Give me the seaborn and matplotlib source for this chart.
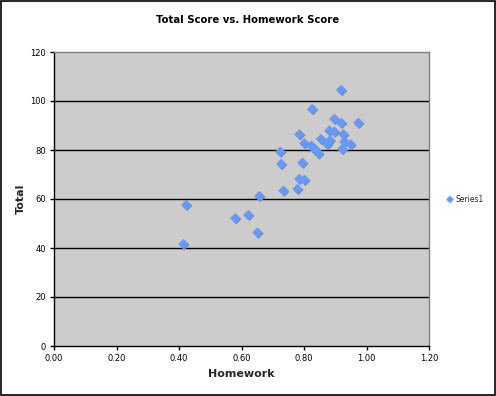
import matplotlib
matplotlib.use("Agg")
import matplotlib.pyplot as plt
import matplotlib.transforms as mtransforms
import seaborn as sns
import pandas as pd

homework = [0.919, 0.826, 0.897, 0.919, 0.974, 0.785, 0.881, 0.897, 0.926, 0.801,
            0.854, 0.883, 0.874, 0.929, 0.949, 0.922, 0.824, 0.830, 0.840, 0.846,
            0.724, 0.727, 0.795, 0.785, 0.801, 0.734, 0.779, 0.657, 0.423, 0.580,
            0.622, 0.651, 0.414]
total = [104.5, 96.7, 92.7, 91.1, 91.1, 86.4, 87.9, 87.5, 86.4, 82.7,
         84.5, 84.0, 82.4, 83.4, 82.3, 80.4, 81.8, 80.7, 79.7, 78.6,
         79.3, 74.3, 74.8, 68.2, 67.8, 63.4, 64.1, 61.2, 57.6, 52.2,
         53.5, 46.3, 41.6]
x_ticks = [0.0, 0.2, 0.4, 0.6, 0.8, 1.0, 1.2]
y_ticks = [0, 20, 40, 60, 80, 100, 120]

df = pd.DataFrame({"Homework": homework, "Total": total})

sns.set_style("white")
plt.rcParams['font.family'] = ['DejaVu Sans']

fig = plt.figure(figsize=(4.96, 3.96), dpi=100)
ax = fig.add_axes([54/496, 50/396, 375/496, 294/396])
ax.set_facecolor("#CCCCCC")

marker_color = "#6699FF"
shadow = mtransforms.offset_copy(ax.transData, fig=fig, x=1.0, y=-1.0, units='dots')
ax.scatter(df["Homework"], df["Total"], marker="D", s=28, color="#888888",
           edgecolors="none", transform=shadow, zorder=2)
sns.scatterplot(data=df, x="Homework", y="Total", ax=ax, marker="D", s=28,
                color=marker_color, edgecolor="none", zorder=3, label="Series1")

ax.set_xlim(0, 1.2)
ax.set_ylim(0, 120)
ax.set_xticks(x_ticks)
ax.set_xticklabels([f"{v:.2f}" for v in x_ticks])
ax.set_yticks(y_ticks)
ax.set_yticklabels([str(v) for v in y_ticks])
for v in y_ticks[1:-1]:
    ax.axhline(v, color="black", lw=1.0, zorder=1)

for s in ["top", "right"]:
    ax.spines[s].set_color("#808080")
    ax.spines[s].set_linewidth(1.0)
for s in ["left", "bottom"]:
    ax.spines[s].set_color("black")
    ax.spines[s].set_linewidth(1.0)
ax.tick_params(axis="both", direction="out", length=3, width=1, labelsize=6, pad=3,
               colors="black", bottom=True, left=True)

ax.set_xlabel("Homework", fontsize=8, fontweight="bold", labelpad=4)
ax.set_ylabel("Total", fontsize=8, fontweight="bold", labelpad=3)
fig.text(0.5, 1 - 20/396, "Total Score vs. Homework Score", ha="center", va="center",
         fontsize=7.3, fontweight="bold", color="black")

leg = ax.legend(loc="center left", bbox_to_anchor=(1.0, 0.5), frameon=False,
                fontsize=5.5, handletextpad=0.0, markerscale=0.75,
                borderaxespad=1.6, handlelength=1.5)

border = plt.Rectangle((0.002, 0.003), 0.995, 0.994, transform=fig.transFigure,
                       fill=False, edgecolor="black", lw=1.2)
fig.patches.append(border)

fig.savefig("out.png", dpi=100)
